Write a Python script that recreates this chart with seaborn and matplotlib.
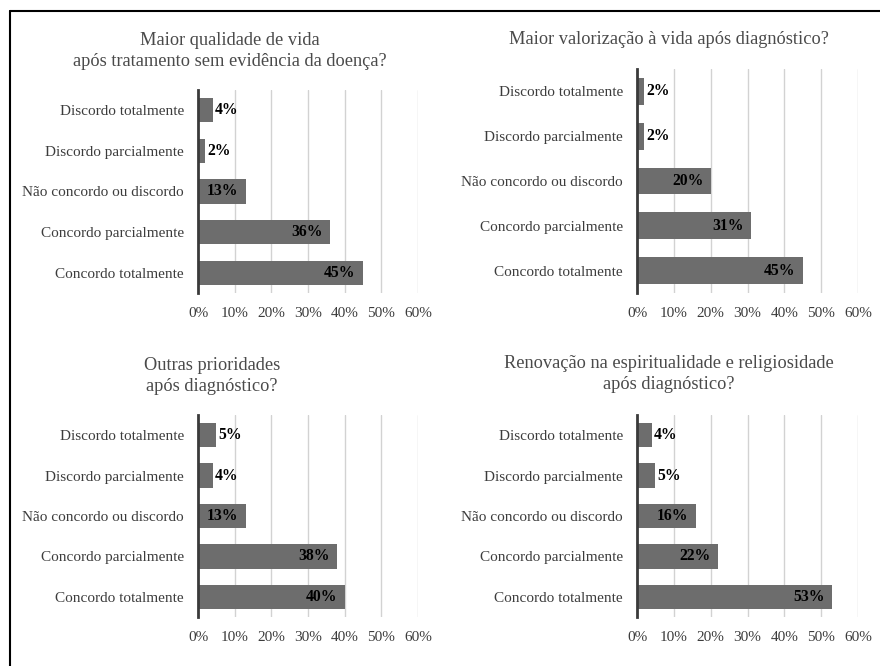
import matplotlib
matplotlib.use("Agg")
import matplotlib.pyplot as plt
from matplotlib.lines import Line2D
import seaborn as sns
import pandas as pd

sns.set_theme(style="white")
plt.rcParams["font.family"] = ["Liberation Serif", "DejaVu Serif"]

categories = [
    "Discordo totalmente",
    "Discordo parcialmente",
    "Não concordo ou discordo",
    "Concordo parcialmente",
    "Concordo totalmente",
]

titles = [
    "Maior qualidade de vida\napós tratamento sem evidência da doença?",
    "Maior valorização à vida após diagnóstico?",
    "Outras prioridades\napós diagnóstico?",
    "Renovação na espiritualidade e religiosidade\napós diagnóstico?",
]

qualidade_vida = [4, 2, 13, 36, 45]
valorizacao_vida = [2, 2, 20, 31, 45]
outras_prioridades = [5, 4, 13, 38, 40]
espiritualidade = [4, 5, 16, 22, 53]

series = [qualidade_vida, valorizacao_vida, outras_prioridades, espiritualidade]

x_ticks = [0, 10, 20, 30, 40, 50, 60]
x_tick_labels = ["0%", "10%", "20%", "30%", "40%", "50%", "60%"]

W, H = 880, 666
fig = plt.figure(figsize=(W / 100, H / 100), dpi=100)

# axes rectangles in pixels: left, top, right, bottom
boxes = [
    (198, 90, 418, 293),
    (637, 69, 858, 293),
    (198, 415, 418, 617),
    (637, 415, 858, 617),
]
# title anchor (center x, center y of the title block) in pixels
title_pos = [(230, 51), (669, 40), (212, 376), (669, 374)]

bar_color = "#6d6d6d"
label_color = "#3c3c3c"

for vals, title, box, tpos in zip(series, titles, boxes, title_pos):
    l, t, r, b = box
    ax = fig.add_axes([l / W, 1 - b / H, (r - l) / W, (b - t) / H])
    df = pd.DataFrame({"categoria": categories, "percentual": vals})
    sns.barplot(data=df, x="percentual", y="categoria", orient="h",
                color=bar_color, saturation=1, width=0.6, ax=ax,
                edgecolor="none")
    ax.set_xlim(0, 60)
    ax.set_ylim(4.5, -0.5)
    ax.set_xticks(x_ticks)
    ax.set_xticklabels(x_tick_labels)
    for xv in x_ticks[1:]:
        ax.axvline(xv, color="#d2d2d2", lw=1.0, zorder=0)
    ax.set_xlabel("")
    ax.set_ylabel("")
    for s in ["top", "right", "bottom"]:
        ax.spines[s].set_visible(False)
    ax.spines["left"].set_color("#3a3a3a")
    ax.spines["left"].set_linewidth(2.0)
    ax.spines["left"].set_zorder(5)
    ax.tick_params(axis="x", length=0, pad=10, labelsize=11, labelcolor=label_color)
    ax.tick_params(axis="y", length=0, pad=10, labelsize=11, labelcolor=label_color)

    for i, v in enumerate(vals):
        if v <= 5:
            ax.text(v + 0.6, i, f"{v}%", ha="left", va="center",
                    fontsize=11.3, fontweight="bold", color="black")
        else:
            ax.text(v - 2.0, i, f"{v}%", ha="right", va="center",
                    fontsize=11.3, fontweight="bold", color="black")

    fig.text(tpos[0] / W, 1 - tpos[1] / H, title, ha="center", va="center",
             fontsize=13.2, color="#4a4a4a", linespacing=1.35)

# frame around the figure (top and left edges)
fig.add_artist(Line2D([10 / W, 1], [1 - 10.5 / H, 1 - 10.5 / H],
                      transform=fig.transFigure, color="black", lw=1.5))
fig.add_artist(Line2D([10 / W, 10 / W], [0, 1 - 10.5 / H],
                      transform=fig.transFigure, color="black", lw=1.5))

fig.savefig("out.png", dpi=100, facecolor="white")
